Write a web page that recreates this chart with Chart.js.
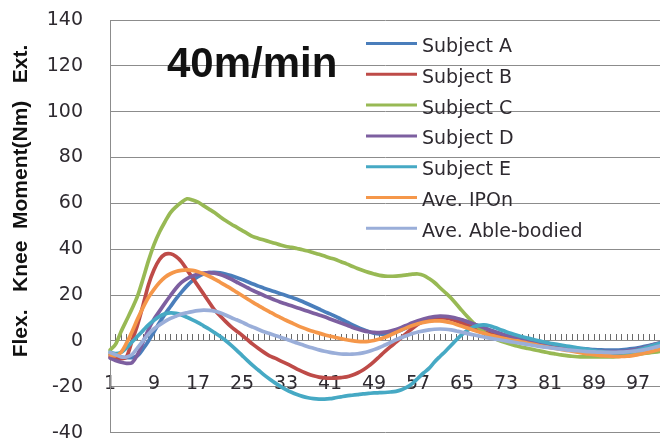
<!DOCTYPE html>
<html>
<head>
<meta charset="utf-8">
<title>Knee moment, 40m/min</title>
<script src="https://cdn.jsdelivr.net/npm/chart.js@4/dist/chart.umd.min.js"></script>
<style>
  html, body { margin: 0; padding: 0; background: #ffffff; }
  #wrap { width: 660px; height: 444px; position: relative; }
</style>
</head>
<body>
<div id="wrap"><canvas id="chart" width="660" height="444"></canvas></div>
<script>
// Gait cycle samples 1..101
const categories = Array.from({ length: 101 }, (_, i) => String(i + 1));
const xTickLabels = ['1', '9', '17', '25', '33', '41', '49', '57', '65', '73', '81', '89', '97'];
const yTicks = [-40, -20, 0, 20, 40, 60, 80, 100, 120, 140];

const seriesNames = ['Subject A', 'Subject B', 'Subject C', 'Subject D', 'Subject E', 'Ave. IPOn', 'Ave. Able-bodied'];
const seriesColors = ['#4a7ebb', '#be4b48', '#98b954', '#7d5fa0', '#46a9c4', '#f5974a', '#9aaed9'];

const subjectA = [
  -6, -6.5, -7, -7.3, -7.3, -6.5, -3.5, 0, 4, 8,
  11.7, 15, 18.3, 21.3, 24, 26.3, 28, 29.2, 29.8, 29.9,
  29.7, 29.2, 28.5, 27.7, 26.8, 25.8, 24.8, 23.9, 23, 22.2,
  21.4, 20.6, 19.8, 19, 18.2, 17.2, 16.1, 15, 13.9, 12.8,
  11.8, 10.7, 9.5, 8.3, 7.1, 6, 5, 4.1, 3.4, 3,
  2.9, 3.2, 3.9, 4.8, 5.8, 6.8, 7.8, 8.7, 9.4, 9.9,
  10.2, 10.2, 10, 9.6, 9, 8.3, 7.5, 6.6, 5.7, 4.8,
  3.9, 3.1, 2.3, 1.6, 1, 0.4, -0.1, -0.6, -1, -1.4,
  -1.8, -2.1, -2.4, -2.7, -3, -3.2, -3.4, -3.6, -3.8, -3.9,
  -4, -4, -4, -3.9, -3.7, -3.4, -3, -2.5, -2, -1.5,
  -1
];
const subjectB = [
  -7, -7.5, -7.8, -7, 0, 7, 15.5, 24.5, 31, 35.5,
  37.8, 38, 36.8, 34.5, 31, 27.5, 24, 20.5, 17, 13.5,
  11, 8.5, 6.2, 4.3, 2.5, 0.5, -1.5, -3.3, -5, -6.5,
  -7.5, -8.7, -9.8, -11, -12.3, -13.4, -14.4, -15.2, -15.8, -16.1,
  -16.2, -16.2, -16, -15.7, -15, -14, -12.7, -11, -9, -6.8,
  -4.6, -2.5, -0.5, 1.5, 3.5, 5.5, 7.3, 8.6, 9.5, 10,
  10.2, 10, 9.5, 8.7, 7.8, 6.8, 5.8, 4.9, 4, 3.2,
  2.5, 1.8, 1.2, 0.6, 0, -0.5, -1, -1.4, -1.8, -2.2,
  -2.5, -2.8, -3.1, -3.4, -3.7, -4, -4.2, -4.4, -4.6, -4.8,
  -5, -5.1, -5.2, -5.2, -5, -4.7, -4.3, -3.8, -3.3, -2.7,
  -2.2
];
const subjectC = [
  -4, -1.5, 4, 9, 14, 19.5, 27, 35, 42, 47.5,
  52, 56, 58.5, 60.5, 62, 61.5, 60.5, 59, 57.5, 56,
  54.2, 52.5, 51, 49.6, 48.2, 46.8, 45.5, 44.7, 44, 43.3,
  42.6, 41.8, 41.2, 40.8, 40.3, 39.8, 39.2, 38.5, 37.8, 37,
  36.2, 35.5, 34.5, 33.6, 32.6, 31.6, 30.7, 29.9, 29.2, 28.6,
  28.3, 28.2, 28.3, 28.5, 28.8, 29.1, 29.2, 28.6, 27.2, 25.5,
  23.2, 21, 18.7, 16, 13.2, 10.5, 8, 5.8, 3.8, 2.3,
  1, 0, -0.8, -1.5, -2.2, -2.8, -3.3, -3.8, -4.3, -4.8,
  -5.3, -5.7, -6.1, -6.4, -6.7, -6.9, -7, -7, -7, -7,
  -7, -7, -6.9, -6.7, -6.4, -6.1, -5.8, -5.5, -5.2, -4.9,
  -4.6
];
const subjectD = [
  -7.5, -8.5, -9.3, -9.8, -9.5, -6, -0.5, 5, 9.5, 13,
  16.5, 19.8, 23, 25.5, 27.2, 28.3, 29.1, 29.6, 29.8, 29.6,
  29, 28.1, 27, 25.7, 24.4, 23.2, 22, 20.9, 19.8, 18.8,
  17.8, 16.9, 16.1, 15.3, 14.5, 13.7, 12.9, 12.1, 11.3, 10.5,
  9.6, 8.7, 7.8, 6.9, 6, 5.2, 4.5, 4, 3.7, 3.6,
  3.8, 4.3, 5, 5.9, 6.9, 7.9, 8.8, 9.6, 10.2, 10.6,
  10.8, 10.7, 10.4, 9.9, 9.2, 8.4, 7.5, 6.6, 5.7, 4.8,
  4, 3.2, 2.5, 1.8, 1.2, 0.6, 0.1, -0.4, -0.9, -1.3,
  -1.7, -2.1, -2.5, -2.9, -3.2, -3.5, -3.8, -4.1, -4.3, -4.5,
  -4.6, -4.7, -4.7, -4.6, -4.4, -4, -3.5, -2.9, -2.2, -1.5,
  -0.8
];
const subjectE = [
  -5, -5.5, -5, -3, -0.5, 2, 4.5, 7, 9, 10.7,
  11.8, 12.2, 12, 11.3, 10.3, 9.2, 8, 6.6, 5.2, 3.6,
  2, 0.2, -1.8, -4, -6.3, -8.6, -10.8, -12.8, -14.8, -16.6,
  -18.3, -19.8, -21.2, -22.4, -23.4, -24.2, -24.8, -25.2, -25.4, -25.4,
  -25.2, -24.8, -24.4, -24, -23.7, -23.4, -23.1, -22.9, -22.7, -22.6,
  -22.5, -22.3, -22, -21.3, -20.2, -18.5, -16.3, -14, -12, -9.2,
  -6.8, -4.5, -2, 0.5, 2.8, 4.6, 6, 6.8, 7, 6.6,
  5.8, 4.9, 4, 3.2, 2.5, 1.8, 1.2, 0.6, 0, -0.5,
  -1, -1.4, -1.8, -2.2, -2.6, -3, -3.4, -3.8, -4.2, -4.6,
  -4.9, -5.1, -5.2, -5.2, -5, -4.6, -4, -3.3, -2.5, -1.8,
  -1
];
const avgIPOn = [
  -6, -6.5, -5, -1, 4, 9.5, 14.5, 19, 22.5, 25.5,
  27.8, 29.3, 30.3, 30.8, 31, 30.8, 30.2, 29.3, 28.2, 27,
  25.6, 24.2, 22.8, 21.3, 19.8, 18.3, 16.8, 15.4, 14, 12.7,
  11.4, 10.2, 9, 7.9, 6.8, 5.8, 4.9, 4.1, 3.4, 2.7,
  2.1, 1.5, 1, 0.5, 0.1, -0.2, -0.3, -0.2, 0.2, 0.8,
  1.6, 2.6, 3.7, 4.8, 5.8, 6.7, 7.5, 8.1, 8.5, 8.7,
  8.7, 8.4, 7.9, 7.2, 6.4, 5.6, 4.8, 4, 3.3, 2.6,
  2, 1.4, 0.9, 0.4, 0, -0.5, -1, -1.5, -2, -2.5,
  -2.9, -3.3, -3.7, -4.1, -4.5, -4.9, -5.3, -5.7, -6, -6.3,
  -6.5, -6.7, -6.8, -6.8, -6.7, -6.4, -6, -5.5, -4.9, -4.3,
  -3.7
];
const avgAbleBodied = [
  -5, -6, -7, -7, -6, -3, 0, 3, 5.3, 7,
  8.5, 9.8, 10.8, 11.7, 12.3, 12.8, 13.2, 13.4, 13.3, 13,
  12.3, 11.3, 10.2, 9.2, 8.2, 7, 6, 5, 4, 3.2,
  2.4, 1.6, 0.8, 0, -0.9, -1.7, -2.5, -3.2, -3.9, -4.5,
  -5, -5.4, -5.7, -5.8, -5.8, -5.6, -5.2, -4.6, -3.8, -2.9,
  -1.8, -0.7, 0.5, 1.5, 2.4, 3.2, 3.9, 4.4, 4.8, 5.1,
  5.2, 5.1, 4.8, 4.3, 3.8, 3.2, 2.7, 2.2, 1.7, 1.2,
  0.8, 0.4, 0, -0.4, -0.8, -1.2, -1.6, -2, -2.4, -2.7,
  -3, -3.3, -3.6, -3.9, -4.1, -4.3, -4.5, -4.7, -4.8, -4.9,
  -5, -5, -5, -4.9, -4.8, -4.6, -4.3, -3.9, -3.4, -2.8,
  -2.2
];

const seriesValues = [subjectA, subjectB, subjectC, subjectD, subjectE, avgIPOn, avgAbleBodied];

const GRID = '#8c8c8c';
const TICK = '#6a6a6a';
const TEXT = '#2e2a30';
const CLEAR = 'rgba(0,0,0,0)';

// Title, vertical axis caption and the in-plot legend
const overlayPlugin = {
  id: 'overlay',
  afterDraw(chart) {
    const ctx = chart.ctx;
    ctx.save();
    ctx.fillStyle = '#111111';
    ctx.font = 'bold 42px "Liberation Sans", Arial, sans-serif';
    ctx.textAlign = 'left';
    ctx.textBaseline = 'alphabetic';
    ctx.fillText('40m/min', 167, 77);

    ctx.save();
    ctx.translate(27, 201);
    ctx.rotate(-Math.PI / 2);
    ctx.font = 'bold 21px "Liberation Sans", Arial, sans-serif';
    ctx.textAlign = 'center';
    ctx.fillStyle = '#111111';
    ctx.fillText('Flex.   Knee  Moment(Nm)   Ext.', 0, 0);
    ctx.restore();

    ctx.font = '19px "DejaVu Sans", sans-serif';
    ctx.textAlign = 'left';
    chart.data.datasets.forEach((ds, k) => {
      const base = 52 + k * 30.8;
      ctx.strokeStyle = ds.borderColor;
      ctx.lineWidth = 3;
      ctx.beginPath();
      ctx.moveTo(366, base - 8.5);
      ctx.lineTo(417, base - 8.5);
      ctx.stroke();
      ctx.fillStyle = TEXT;
      ctx.fillText(ds.label, 422, base);
    });
    ctx.restore();
  }
};

const datasets = seriesNames.map((name, i) => ({
  label: name,
  data: seriesValues[i],
  xAxisID: 'x',
  borderColor: seriesColors[i],
  backgroundColor: seriesColors[i],
  borderWidth: 3.7,
  pointRadius: 0,
  tension: 0.3,
  fill: false,
  borderCapStyle: 'round',
  borderJoinStyle: 'round',
  order: seriesNames.length - i
}));

const labelFont = { family: '"DejaVu Sans", sans-serif', size: 19 };

new Chart(document.getElementById('chart'), {
  type: 'line',
  data: { labels: categories, datasets },
  plugins: [overlayPlugin],
  options: {
    responsive: false,
    animation: false,
    devicePixelRatio: 1,
    layout: { padding: { top: 20, right: 0, bottom: 11, left: 0 } },
    plugins: { legend: { display: false }, tooltip: { enabled: false }, title: { display: false } },
    scales: {
      // category labels, hung below the zero line
      x: {
        type: 'category',
        axis: 'x',
        position: { y: 0 },
        offset: false,
        grid: { drawOnChartArea: false, drawTicks: true, tickLength: 32, tickColor: CLEAR },
        border: { display: true, color: GRID, width: 1 },
        ticks: {
          autoSkip: false,
          maxRotation: 0,
          minRotation: 0,
          padding: 0,
          color: TEXT,
          font: labelFont,
          callback(value) {
            const lab = this.getLabelForValue(value);
            return xTickLabels.includes(lab) ? lab : '';
          }
        }
      },
      // short tick marks standing on the zero line, one per sample
      xMarks: {
        type: 'category',
        axis: 'x',
        position: { y: 0 },
        offset: false,
        grid: { drawOnChartArea: false, drawTicks: true, tickLength: -7, tickColor: TICK, tickWidth: 1 },
        border: { display: false },
        ticks: { display: false, autoSkip: false }
      },
      y: {
        min: yTicks[0],
        max: yTicks[yTicks.length - 1],
        afterFit(scale) { scale.width = 110; },
        afterBuildTicks(scale) { scale.ticks = yTicks.map(v => ({ value: v })); },
        grid: { color: GRID, drawTicks: true, tickLength: 27, tickColor: CLEAR, lineWidth: 1 },
        border: { display: true, color: GRID, width: 1 },
        ticks: { padding: 0, color: TEXT, font: labelFont }
      }
    }
  }
});
</script>
</body>
</html>
